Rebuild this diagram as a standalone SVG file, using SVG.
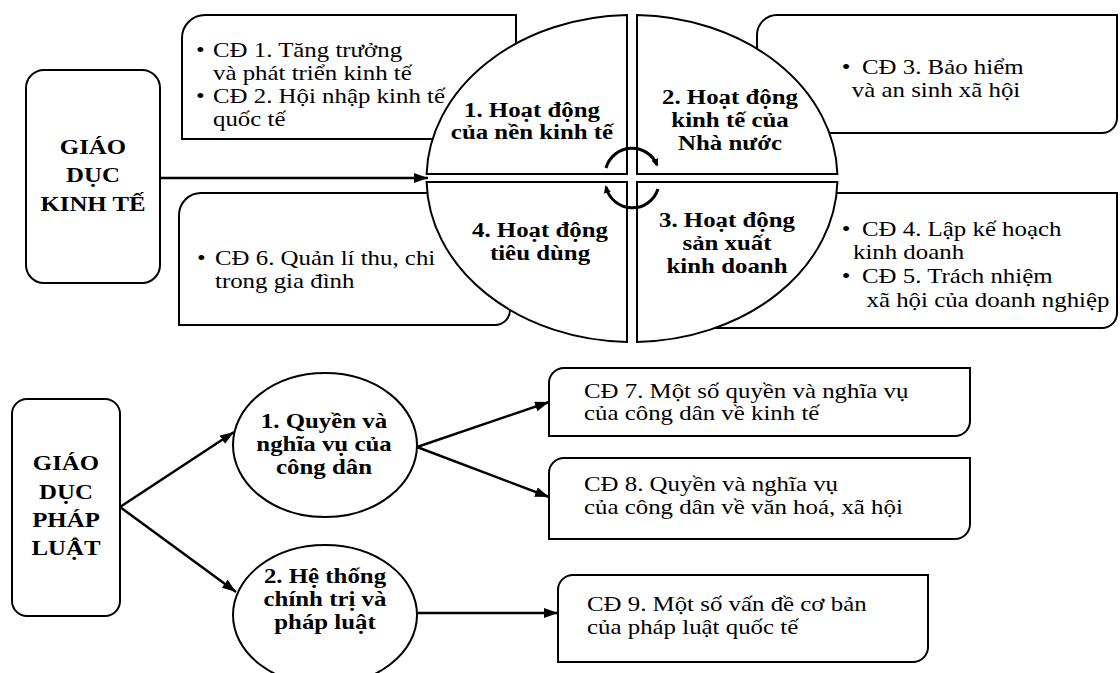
<svg xmlns="http://www.w3.org/2000/svg" width="1120" height="673" viewBox="0 0 1120 673">
<style>
.bg{fill:#fff}
.box{fill:#fff;stroke:#000;stroke-width:2}
.q{fill:#fff;stroke:#000;stroke-width:2}
.ar{fill:none;stroke:#000;stroke-width:2.5}
.arc{fill:none;stroke:#000;stroke-width:3}
.t{font-family:"Liberation Serif","Times New Roman",serif;font-size:22px;fill:#000}
.b{font-weight:bold}
.m{text-anchor:middle}
</style>
<defs>
<marker id="ah" viewBox="0 0 14 10" refX="14" refY="5" markerWidth="14" markerHeight="10" markerUnits="userSpaceOnUse" orient="auto">
<path d="M0,0 L14,5 L0,10 Z" fill="#000"/>
</marker>
<marker id="sah" viewBox="0 0 8 8" refX="6" refY="4" markerWidth="8" markerHeight="8" markerUnits="userSpaceOnUse" orient="auto">
<path d="M0,0.5 L8,4 L0,7.5 Z" fill="#000"/>
</marker>
</defs>
<rect class="bg" x="0" y="0" width="1120" height="673"/>

<g id="gdkt">
<rect class="box" x="26" y="70" width="134" height="213" rx="18"/>
<text class="t b m" transform="translate(93,0) scale(1.13,1)"><tspan x="0" y="154">GIÁO</tspan><tspan x="0" y="182">DỤC</tspan><tspan x="0" y="211">KINH TẾ</tspan></text>
</g>

<g id="cd12">
<path class="box" d="M182,139 V38 A23,23 0 0 1 205,15 H516 V139 Z"/>
<text class="t" transform="translate(213,0) scale(1.13,1)"><tspan x="-15" y="57">•</tspan><tspan x="0" y="57">CĐ 1. Tăng trưởng</tspan><tspan x="0" y="80">và phát triển kinh tế</tspan><tspan x="-15" y="103">•</tspan><tspan x="0" y="103">CĐ 2. Hội nhập kinh tế</tspan><tspan x="0" y="126">quốc tế</tspan></text>
</g>

<g id="cd3">
<path class="box" d="M757,133 V35 A20,20 0 0 1 777,15 H1117 V118 A15,15 0 0 1 1102,133 Z"/>
<text class="t" transform="translate(862,0) scale(1.13,1)"><tspan x="-18" y="74">•</tspan><tspan x="0" y="74">CĐ 3. Bảo hiểm</tspan><tspan x="-9" y="97">và an sinh xã hội</tspan></text>
</g>

<g id="cd45">
<path class="box" d="M700,193 H1117 V313 A15,15 0 0 1 1102,328 H700 Z"/>
<text class="t" transform="translate(862,0) scale(1.13,1)"><tspan x="-18" y="236">•</tspan><tspan x="0" y="236">CĐ 4. Lập kế hoạch</tspan><tspan x="-8" y="259">kinh doanh</tspan><tspan x="-18" y="283">•</tspan><tspan x="0" y="283">CĐ 5. Trách nhiệm</tspan><tspan x="4" y="307">xã hội của doanh nghiệp</tspan></text>
</g>

<g id="cd6">
<path class="box" d="M179,325 V215 A22,22 0 0 1 201,193 H510 V310 A15,15 0 0 1 495,325 Z"/>
<text class="t" transform="translate(215,0) scale(1.13,1)"><tspan x="-16" y="265">•</tspan><tspan x="0" y="265">CĐ 6. Quản lí thu, chi</tspan><tspan x="0" y="288">trong gia đình</tspan></text>
</g>

<g id="q1">
<path class="q" d="M426.6,174 A205.5,163.5 0 0 1 627,15.1 L627,174 Z"/>
<text class="t b m" transform="translate(532,0) scale(1.13,1)"><tspan x="0" y="117">1. Hoạt động</tspan><tspan x="0" y="139">của nền kinh tế</tspan></text>
</g>
<g id="q2">
<path class="q" d="M637,15.1 A205.5,163.5 0 0 1 837.4,174 L637,174 Z"/>
<text class="t b m" transform="translate(730,0) scale(1.13,1)"><tspan x="0" y="104">2. Hoạt động</tspan><tspan x="0" y="127">kinh tế của</tspan><tspan x="0" y="150">Nhà nước</tspan></text>
</g>
<g id="q3">
<path class="q" d="M837.4,182 A205.5,163.5 0 0 1 637,341.9 L637,182 Z"/>
<text class="t b m" transform="translate(727,0) scale(1.13,1)"><tspan x="0" y="227">3. Hoạt động</tspan><tspan x="0" y="250">sản xuất</tspan><tspan x="0" y="273">kinh doanh</tspan></text>
</g>
<g id="q4">
<path class="q" d="M627,341.9 A205.5,163.5 0 0 1 426.6,182 L627,182 Z"/>
<text class="t b m" transform="translate(540,0) scale(1.13,1)"><tspan x="0" y="237">4. Hoạt động</tspan><tspan x="0" y="260">tiêu dùng</tspan></text>
</g>

<g id="gdpl">
<rect class="box" x="12" y="399" width="108" height="217" rx="15"/>
<text class="t b m" transform="translate(66,0) scale(1.13,1)"><tspan x="0" y="470">GIÁO</tspan><tspan x="0" y="499">DỤC</tspan><tspan x="0" y="527">PHÁP</tspan><tspan x="0" y="555">LUẬT</tspan></text>
</g>

<g id="e1">
<ellipse class="box" cx="325" cy="445" rx="92" ry="72"/>
<text class="t b m" transform="translate(324,0) scale(1.13,1)"><tspan x="0" y="428">1. Quyền và</tspan><tspan x="0" y="451">nghĩa vụ của</tspan><tspan x="0" y="474">công dân</tspan></text>
</g>
<g id="e2">
<ellipse class="box" cx="325" cy="615" rx="92" ry="70"/>
<text class="t b m" transform="translate(325,0) scale(1.13,1)"><tspan x="0" y="583">2. Hệ thống</tspan><tspan x="0" y="606">chính trị và</tspan><tspan x="0" y="629">pháp luật</tspan></text>
</g>

<g id="cd7">
<path class="box" d="M549,436 V383 A15,15 0 0 1 564,368 H970 V421 A15,15 0 0 1 955,436 Z"/>
<text class="t" transform="translate(584,0) scale(1.13,1)"><tspan x="0" y="398">CĐ 7. Một số quyền và nghĩa vụ</tspan><tspan x="0" y="420">của công dân về kinh tế</tspan></text>
</g>
<g id="cd8">
<path class="box" d="M549,539 V473 A15,15 0 0 1 564,458 H970 V524 A15,15 0 0 1 955,539 Z"/>
<text class="t" transform="translate(584,0) scale(1.13,1)"><tspan x="0" y="491">CĐ 8. Quyền và nghĩa vụ</tspan><tspan x="0" y="514">của công dân về văn hoá, xã hội</tspan></text>
</g>
<g id="cd9">
<path class="box" d="M558,662 V590 A15,15 0 0 1 573,575 H928 V647 A15,15 0 0 1 913,662 Z"/>
<text class="t" transform="translate(587,0) scale(1.13,1)"><tspan x="0" y="611">CĐ 9. Một số vấn đề cơ bản</tspan><tspan x="0" y="634">của pháp luật quốc tế</tspan></text>
</g>

<g id="connectors">
<line class="ar" x1="160" y1="178" x2="428" y2="178" marker-end="url(#ah)"/>
<path class="arc" d="M606,168 A27,27 0 0 1 657,165" marker-end="url(#sah)"/>
<path class="arc" d="M658,189 A27,27 0 0 1 606,187" marker-end="url(#sah)"/>
<line class="ar" x1="120" y1="507" x2="234" y2="432" marker-end="url(#ah)"/>
<line class="ar" x1="120" y1="507" x2="236" y2="592" marker-end="url(#ah)"/>
<line class="ar" x1="417" y1="447" x2="549" y2="402" marker-end="url(#ah)"/>
<line class="ar" x1="417" y1="447" x2="549" y2="497" marker-end="url(#ah)"/>
<line class="ar" x1="418" y1="613" x2="558" y2="613" marker-end="url(#ah)"/>
</g>
</svg>
